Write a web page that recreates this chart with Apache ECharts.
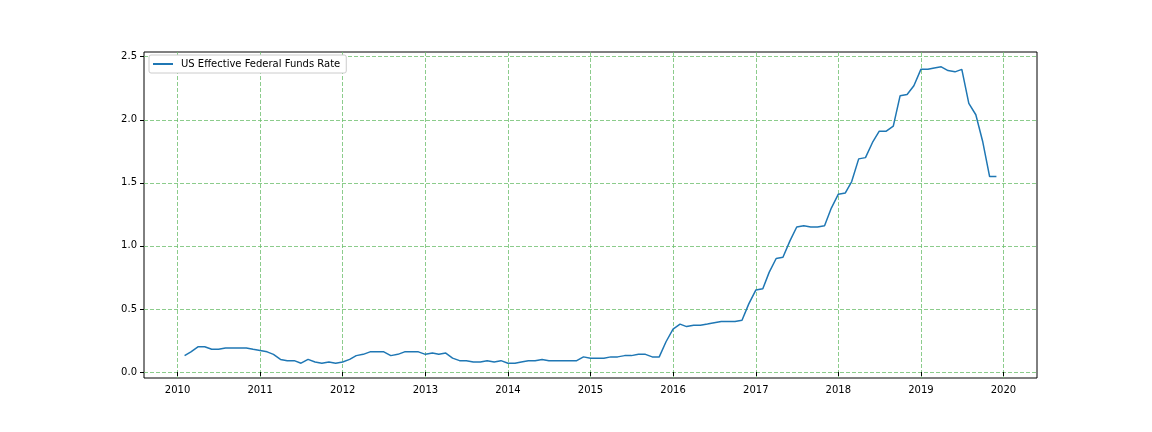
<!DOCTYPE html>
<html>
<head>
<meta charset="utf-8">
<script src="https://cdn.jsdelivr.net/npm/echarts@6/dist/echarts.min.js"></script>
<style>
  html, body { margin: 0; padding: 0; background: #fff; }
  #chart { width: 1152px; height: 432px; }
</style>
</head>
<body>
<div id="chart"></div>
<script>
// Monthly US effective federal funds rate, Feb 2010 .. Dec 2019
const startYear = 2010, startMonth = 2; // first observation month
const rates = [
  /*2010*/ 0.13, 0.16, 0.20, 0.20, 0.18, 0.18, 0.19, 0.19, 0.19, 0.19, 0.18,
  /*2011*/ 0.17, 0.16, 0.14, 0.10, 0.09, 0.09, 0.07, 0.10, 0.08, 0.07, 0.08, 0.07,
  /*2012*/ 0.08, 0.10, 0.13, 0.14, 0.16, 0.16, 0.16, 0.13, 0.14, 0.16, 0.16, 0.16,
  /*2013*/ 0.14, 0.15, 0.14, 0.15, 0.11, 0.09, 0.09, 0.08, 0.08, 0.09, 0.08, 0.09,
  /*2014*/ 0.07, 0.07, 0.08, 0.09, 0.09, 0.10, 0.09, 0.09, 0.09, 0.09, 0.09, 0.12,
  /*2015*/ 0.11, 0.11, 0.11, 0.12, 0.12, 0.13, 0.13, 0.14, 0.14, 0.12, 0.12, 0.24,
  /*2016*/ 0.34, 0.38, 0.36, 0.37, 0.37, 0.38, 0.39, 0.40, 0.40, 0.40, 0.41, 0.54,
  /*2017*/ 0.65, 0.66, 0.79, 0.90, 0.91, 1.04, 1.15, 1.16, 1.15, 1.15, 1.16, 1.30,
  /*2018*/ 1.41, 1.42, 1.51, 1.69, 1.70, 1.82, 1.91, 1.91, 1.95, 2.19, 2.20, 2.27,
  /*2019*/ 2.40, 2.40, 2.41, 2.42, 2.39, 2.38, 2.40, 2.13, 2.04, 1.83, 1.55, 1.55
];
const seriesName = 'US Effective Federal Funds Rate';
const xTickYears = [2010, 2011, 2012, 2013, 2014, 2015, 2016, 2017, 2018, 2019, 2020];
const yTicks = [0.0, 0.5, 1.0, 1.5, 2.0, 2.5];

const dates = rates.map((_, i) => Date.UTC(startYear, startMonth - 1 + i, 1));
const seriesData = rates.map((v, i) => [dates[i], v]);

// matplotlib-like 5% margins
const span = dates[dates.length - 1] - dates[0];
const xMin = dates[0] - span * 0.05;
const xMax = dates[dates.length - 1] + span * 0.05;
const rMin = Math.min(...rates), rMax = Math.max(...rates);
const yMin = rMin - (rMax - rMin) * 0.05;
const yMax = rMax + (rMax - rMin) * 0.05;

const xTickValues = xTickYears.map(y => Date.UTC(y, 0, 1));
const font = 'DejaVu Sans';
const gridLine = { show: true, showMinLine: true, showMaxLine: true,
  lineStyle: { color: '#6fbf6f', type: [4, 2], width: 0.8 } };

const chart = echarts.init(document.getElementById('chart'), null, { renderer: 'canvas' });
chart.setOption({
  animation: false,
  backgroundColor: '#ffffff',
  grid: { left: 144, right: 115, top: 52, bottom: 54, show: true,
    borderColor: '#000', borderWidth: 1, backgroundColor: 'transparent' },
  legend: {
    left: 149, top: 55,
    data: [seriesName],
    backgroundColor: '#fff',
    borderColor: '#cccccc', borderWidth: 1, borderRadius: 2,
    padding: [4, 6, 4, 4],
    itemWidth: 20, itemHeight: 2, itemGap: 10,
    icon: 'rect',
    textStyle: { fontFamily: font, fontSize: 10, color: '#000', padding: [0, 0, 0, 3] }
  },
  xAxis: {
    type: 'value', min: xMin, max: xMax,
    axisLine: { show: false },
    axisTick: { show: true, length: 4, customValues: xTickValues, lineStyle: { color: '#000' } },
    axisLabel: { customValues: xTickValues, margin: 7, fontFamily: font, fontSize: 10, color: '#000',
      formatter: v => String(new Date(v).getUTCFullYear()) },
    splitLine: gridLine
  },
  yAxis: {
    type: 'value', min: yMin, max: yMax,
    axisLine: { show: false },
    axisTick: { show: true, length: 4, customValues: yTicks, lineStyle: { color: '#000' } },
    axisLabel: { customValues: yTicks, margin: 7, fontFamily: font, fontSize: 10, color: '#000',
      formatter: v => v.toFixed(1) },
    splitLine: gridLine
  },
  series: [{
    name: seriesName, type: 'line', data: seriesData,
    showSymbol: false, symbol: 'none',
    lineStyle: { color: '#1f77b4', width: 1.5 },
    itemStyle: { color: '#1f77b4' }
  }]
});
</script>
</body>
</html>
